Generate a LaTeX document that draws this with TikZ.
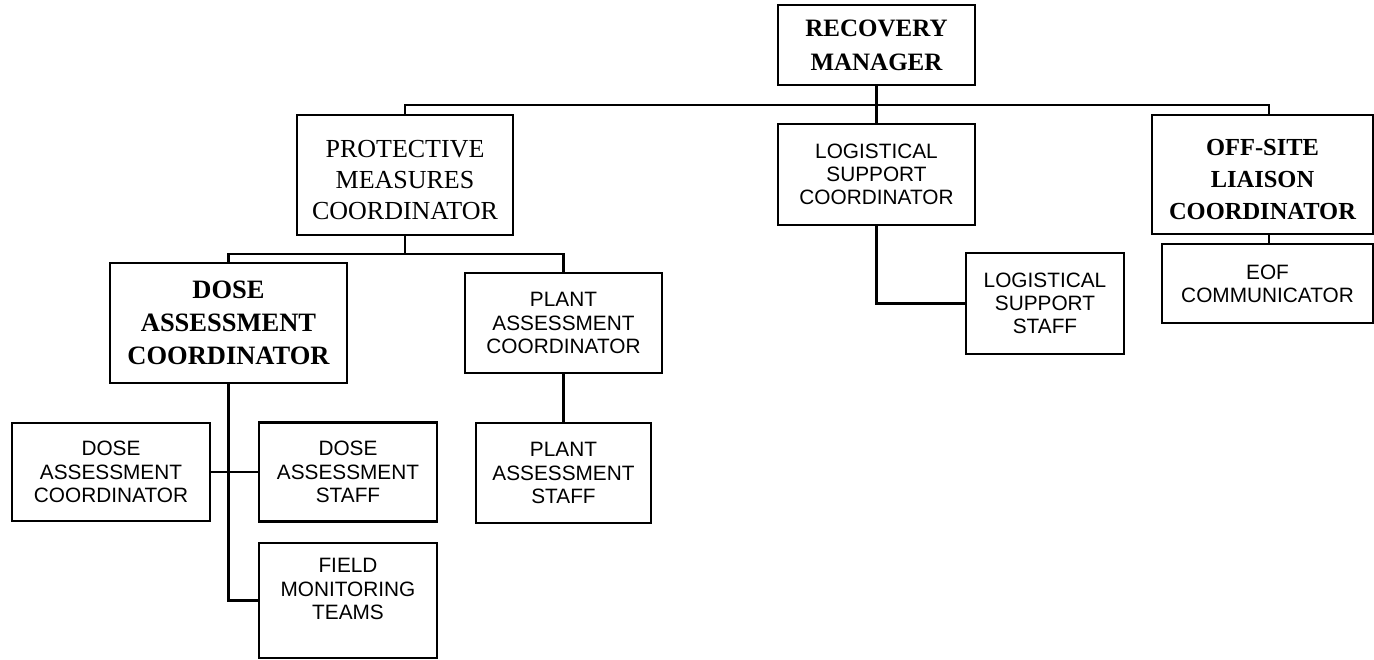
\documentclass[tikz,border=0pt]{standalone}
\usepackage{fontspec}
\setmainfont{Liberation Serif}
\newfontfamily\arialf{Liberation Sans}
\begin{document}
\begin{tikzpicture}[x=1pt,y=-1pt,
  box/.style={draw, line width=2.7pt, inner sep=0pt, align=center},
  headbold/.style={box, font=\bfseries\fontsize{25}{34}\selectfont},
  headplain/.style={box, font=\fontsize{26}{31}\selectfont},
  liaison/.style={box, font=\bfseries\fontsize{24.5}{32}\selectfont},
  dosehead/.style={box, font=\bfseries\fontsize{26.5}{33}\selectfont},
  staffbox/.style={box, font=\arialf\fontsize{20.8}{23.3}\selectfont},
  link/.style={line width=2.3pt}]
% page
\fill[white] (0,0) rectangle (1374,660);
\useasboundingbox (0,0) rectangle (1374,660);

% top level
\node[headbold, minimum width=197pt, minimum height=80pt] (rm) at (876.5,45) {RECOVERY\\MANAGER};

% second level
\node[headplain, minimum width=216pt, minimum height=120pt] (pm) at (405,175) {\rule{0pt}{28pt}PROTECTIVE\\MEASURES\\COORDINATOR};
\node[staffbox, minimum width=197pt, minimum height=101pt] (lsc) at (876.5,174.5) {LOGISTICAL\\SUPPORT\\COORDINATOR};
\node[liaison, minimum width=221pt, minimum height=119pt] (olc) at (1262.5,174.5) {\rule{0pt}{27pt}OFF-SITE\\LIAISON\\COORDINATOR};

% third level
\node[dosehead, minimum width=237pt, minimum height=120pt] (dac) at (228.5,323) {DOSE\\ASSESSMENT\\COORDINATOR};
\node[staffbox, minimum width=197pt, minimum height=100pt] (pac) at (563.5,323) {PLANT\\ASSESSMENT\\COORDINATOR};
\node[staffbox, minimum width=158pt, minimum height=101pt] (lss) at (1045,303.5) {LOGISTICAL\\SUPPORT\\STAFF};
\node[staffbox, minimum width=211pt, minimum height=79pt] (eof) at (1267.5,283.5) {EOF\\COMMUNICATOR};

% fourth level
\node[staffbox, minimum width=198pt, minimum height=98pt] (dacs) at (111,472) {DOSE\\ASSESSMENT\\COORDINATOR};
\node[staffbox, minimum width=178pt, minimum height=99pt] (das) at (348,472) {DOSE\\ASSESSMENT\\STAFF};
\node[staffbox, minimum width=175pt, minimum height=100pt] (pas) at (563.5,473) {PLANT\\ASSESSMENT\\STAFF};
\node[staffbox, minimum width=178pt, minimum height=115pt] (fmt) at (348,600.5) {FIELD\\MONITORING\\TEAMS\\\mbox{}};

% bus lines
\coordinate (busA) at (0,105);
\coordinate (busB) at (0,254);

% connectors
\draw[link] (rm.south) -- (lsc.north);
\draw[link] (pm.north) -- (pm.north |- busA) -- ([xshift=6.5pt]olc.north |- busA) -- ([xshift=6.5pt]olc.north);
\draw[link] (pm.south) -- (pm.south |- busB);
\draw[link] (dac.north) -- (dac.north |- busB) -- (pac.north |- busB) -- (pac.north);
\draw[link] (dac.south) |- (fmt.west);
\draw[link] (dacs.east) -- (das.west);
\draw[link] (pac.south) -- (pas.north);
\draw[link] (lsc.south) |- (lss.west);
\draw[link] ([xshift=6.5pt]olc.south) -- ([xshift=6.5pt]olc.south |- eof.north);
\end{tikzpicture}
\end{document}
